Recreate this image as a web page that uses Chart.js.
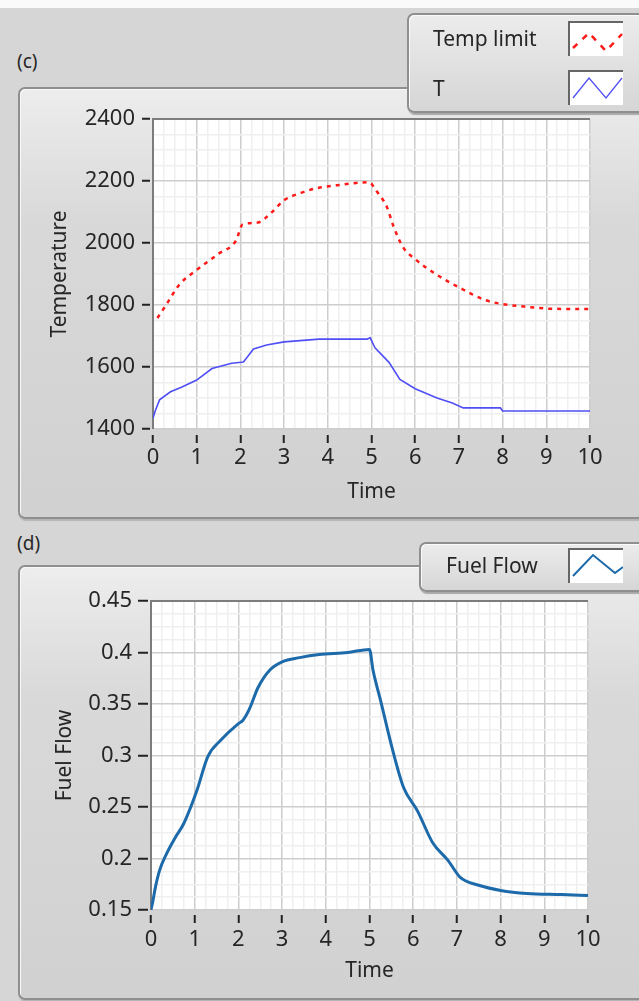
<!DOCTYPE html>
<html>
<head>
<meta charset="utf-8">
<script src="https://cdn.jsdelivr.net/npm/chart.js@4.4.1/dist/chart.umd.min.js"></script>
<style>
  body { margin: 0; width: 639px; height: 1001px; background: #d6d6d6; position: relative; overflow: hidden; font-family: "Noto Sans", sans-serif; color: #262626; }
  .topstrip { position: absolute; left: 0; top: 0; width: 639px; height: 8px; background: #fafafa; }
  .panel { position: absolute; border: 2px solid #8f8f8f; border-radius: 7px; background: linear-gradient(#ededed, #d9d9d9 30%, #d1d1d1); box-shadow: inset 1px 1px 0 #f8f8f8, 1px 2px 1px #b5b5b5; }
  .tag { position: absolute; left: 17px; font-size: 19px; }
  .legend { position: absolute; border: 2px solid #8f8f8f; border-radius: 7px; background: linear-gradient(#ececec, #d6d6d6); box-shadow: inset 1px 1px 0 #fafafa, 1px 2px 1px #a8a8a8; }
  .item { position: absolute; font-size: 21px; line-height: 26px; }
  .sw { position: absolute; width: 53px; height: 33px; background: #fff; border-top: 2px solid #666; border-left: 2px solid #666; }
  canvas { position: absolute; left: 0; }
</style>
</head>
<body>
<div class="topstrip"></div>
<div class="tag" style="top:48px">(c)</div>
<div class="panel" style="left:18px; top:87px; width:640px; height:428px"></div>
<div class="tag" style="top:530px">(d)</div>
<div class="panel" style="left:18px; top:565px; width:640px; height:431px"></div>

<canvas id="graficoTemp" width="639" height="420" style="top:90px"></canvas>
<canvas id="graficoFuel" width="639" height="428" style="top:570px"></canvas>

<div class="legend" style="left:407px; top:13px; width:250px; height:96px">
  <div class="item" style="left:24px; top:10px">Temp limit</div>
  <div class="sw" style="left:159px; top:6px">
    <svg width="53" height="33"><polyline points="3,25 19,10 36,28 52,11" fill="none" stroke="#ff1a1a" stroke-width="2.5" stroke-dasharray="6,7"/></svg>
  </div>
  <div class="item" style="left:24px; top:60px">T</div>
  <div class="sw" style="left:159px; top:55px">
    <svg width="53" height="33"><polyline points="3,26 19,6 36,26 52,6" fill="none" stroke="#5050f5" stroke-width="1.3"/></svg>
  </div>
</div>

<div class="legend" style="left:419px; top:542px; width:240px; height:46px">
  <div class="item" style="left:25px; top:8px">Fuel Flow</div>
  <div class="sw" style="left:147px; top:4px">
    <svg width="53" height="33"><polyline points="3,26 23,5 45,23 53,17" fill="none" stroke="#1d6aaa" stroke-width="2"/></svg>
  </div>
</div>

<script>
// datos
const timeTicks = [0, 1, 2, 3, 4, 5, 6, 7, 8, 9, 10];

const tempLimitTime = [0.1, 0.3, 0.6, 1.0, 1.5, 1.9, 2.05, 2.4, 2.7, 3.0, 3.35, 3.75, 4.2, 4.6, 4.95, 5.1, 5.35, 5.5, 5.72, 6.0, 6.5, 7.0, 7.6, 8.0, 8.5, 9.1, 10.0];
const tempLimit     = [1758, 1800, 1865, 1913, 1965, 2008, 2060, 2066, 2097, 2138, 2160, 2177, 2186, 2193, 2196, 2170, 2117, 2055, 1987, 1948, 1897, 1857, 1816, 1803, 1795, 1788, 1787];

const tTime = [0, 0.05, 0.15, 0.4, 0.65, 1.0, 1.35, 1.8, 2.07, 2.3, 2.6, 3.0, 3.8, 4.9, 4.97, 5.08, 5.4, 5.65, 6.0, 6.5, 6.85, 7.1, 7.95, 8.0, 10.0];
const tVals = [1435, 1458, 1494, 1520, 1535, 1558, 1595, 1612, 1616, 1658, 1671, 1681, 1690, 1690, 1694, 1662, 1615, 1560, 1530, 1500, 1484, 1468, 1468, 1458, 1458];

const fuelTime = [0, 0.04, 0.1, 0.2, 0.36, 0.55, 0.75, 1.05, 1.3, 1.6, 2.0, 2.1, 2.25, 2.45, 2.72, 3.0, 3.4, 3.85, 4.5, 5.0, 5.08, 5.25, 5.55, 5.78, 6.1, 6.45, 6.8, 7.07, 7.5, 8.0, 8.6, 9.4, 10.0];
const fuelFlow = [0.15, 0.158, 0.172, 0.189, 0.205, 0.22, 0.234, 0.266, 0.299, 0.315, 0.331, 0.334, 0.345, 0.366, 0.383, 0.391, 0.395, 0.398, 0.400, 0.403, 0.383, 0.354, 0.302, 0.269, 0.246, 0.215, 0.198, 0.182, 0.174, 0.169, 0.166, 0.165, 0.164];

const tempTicks = [1400, 1600, 1800, 2000, 2200, 2400];
const fuelTicks = [0.15, 0.2, 0.25, 0.3, 0.35, 0.4, 0.45];

const FONT = "'Noto Sans', sans-serif";
const TXT = '#262626';

const puntos = (xs, ys) => xs.map((x, i) => ({ x: x, y: ys[i] }));
const esMayor = (v, lista) => lista.some(m => Math.abs(m - v) < 1e-6);

// fondo blanco y marco del area del grafico
const marcoPlugin = {
    id: 'marco',
    beforeDraw(chart) {
        const { ctx, chartArea: a } = chart;
        ctx.save();
        ctx.fillStyle = '#fff';
        ctx.fillRect(a.left, a.top, a.right - a.left, a.bottom - a.top);
        ctx.restore();
    },
    beforeDatasetsDraw(chart) {
        const { ctx, chartArea: a } = chart;
        ctx.save();
        ctx.strokeStyle = '#7c7c7c';
        ctx.lineWidth = 2;
        ctx.beginPath();
        ctx.moveTo(a.left, a.bottom);
        ctx.lineTo(a.left, a.top);
        ctx.lineTo(a.right, a.top);
        ctx.stroke();
        ctx.restore();
    }
};

const ejeX = (tickLen, dash, pad, titlePad, alto) => ({
    type: 'linear',
    min: 0,
    max: 10,
    afterFit: s => { s.height = alto; },
    grid: {
        color: c => esMayor(c.tick.value, timeTicks) ? '#cdcdcd' : '#efefef',
        lineWidth: 1.5,
        tickColor: c => esMayor(c.tick.value, timeTicks) ? '#222' : 'rgba(0,0,0,0)',
        tickLength: tickLen,
        tickBorderDash: dash,
        tickWidth: 2
    },
    border: { display: false },
    ticks: {
        stepSize: 0.25,
        autoSkip: false,
        maxRotation: 0,
        padding: pad,
        color: TXT,
        font: { family: FONT, size: 22 },
        callback: v => esMayor(v, timeTicks) ? String(Math.round(v)) : ''
    },
    title: { display: true, text: 'Time', color: TXT, font: { family: FONT, size: 21 }, padding: { top: 0, bottom: titlePad } }
});

const ejeY = (min, max, step, mayores, fmt, ancho, tickLen, dash, pad, texto, titlePad) => ({
    type: 'linear',
    min: min,
    max: max,
    afterFit: s => { s.width = ancho; },
    grid: {
        color: c => esMayor(c.tick.value, mayores) ? '#cdcdcd' : '#efefef',
        lineWidth: 1.5,
        tickColor: c => esMayor(c.tick.value, mayores) ? '#222' : 'rgba(0,0,0,0)',
        tickLength: tickLen,
        tickBorderDash: dash,
        tickWidth: 2
    },
    border: { display: false },
    ticks: {
        stepSize: step,
        autoSkip: false,
        padding: pad,
        color: TXT,
        font: { family: FONT, size: 22 },
        callback: v => esMayor(v, mayores) ? fmt(v) : ''
    },
    title: { display: true, text: texto, color: TXT, font: { family: FONT, size: 21 }, padding: { top: titlePad, bottom: 0 } }
});

const generaGraficoTemp = () => {
    const ctx = document.getElementById('graficoTemp');
    window.chartTemp = new Chart(ctx, {
        type: 'line',
        data: {
            datasets: [{
                label: 'Temp limit',
                data: puntos(tempLimitTime, tempLimit),
                borderColor: '#ff1a1a',
                borderWidth: 2.5,
                borderDash: [4, 5],
                cubicInterpolationMode: 'monotone',
                pointRadius: 0
            },
            {
                label: 'T',
                data: puntos(tTime, tVals),
                borderColor: '#4f4ff5',
                borderWidth: 1.6,
                pointRadius: 0
            }]
        },
        options: {
            responsive: false,
            animation: false,
            layout: { padding: { left: 0, right: 49, top: 29, bottom: 0 } },
            plugins: { legend: { display: false }, tooltip: { enabled: false } },
            scales: {
                x: ejeX(14, [0, 6, 8, 50], 2, 5, 81),
                y: ejeY(1400, 2400, 50, tempTicks, v => String(v), 153, 11, [8, 20], 7, 'Temperature', 47)
            }
        },
        plugins: [marcoPlugin]
    });
}

const generaGraficoFuel = () => {
    const ctx = document.getElementById('graficoFuel');
    window.chartFuel = new Chart(ctx, {
        type: 'line',
        data: {
            datasets: [{
                label: 'Fuel Flow',
                data: puntos(fuelTime, fuelFlow),
                borderColor: '#1d6aaa',
                borderWidth: 3,
                cubicInterpolationMode: 'monotone',
                pointRadius: 0
            }]
        },
        options: {
            responsive: false,
            animation: false,
            layout: { padding: { left: 0, right: 51, top: 31, bottom: 0 } },
            plugins: { legend: { display: false }, tooltip: { enabled: false } },
            scales: {
                x: ejeX(13, [0, 5, 8, 50], 4, 14, 88),
                y: ejeY(0.15, 0.45, 0.0125, fuelTicks, v => String(Math.round(v * 100) / 100), 151, 13, [10, 20], 6, 'Fuel Flow', 52)
            }
        },
        plugins: [marcoPlugin]
    });
}

generaGraficoTemp();
generaGraficoFuel();
</script>
</body>
</html>
